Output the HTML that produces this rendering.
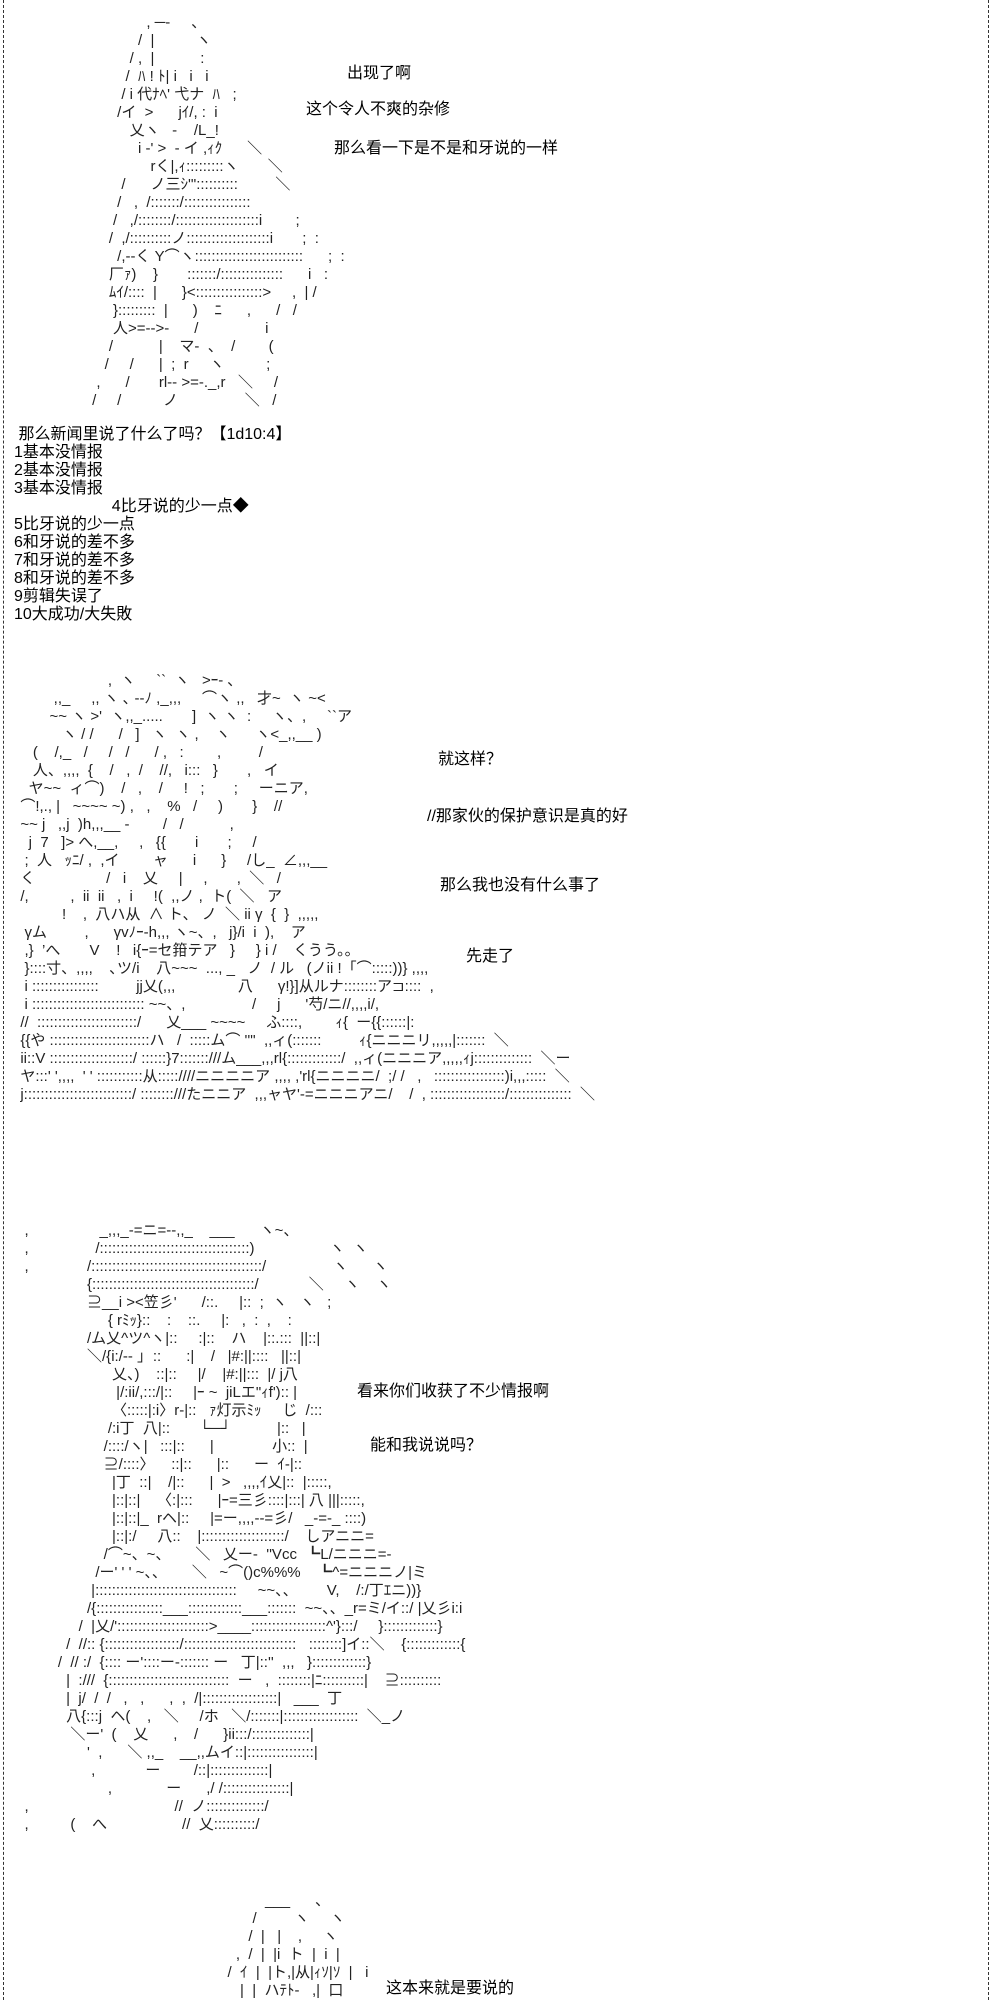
<!DOCTYPE html>
<html><head><meta charset="utf-8">
<style>
html,body{margin:0;padding:0;background:#fff;}
body{width:992px;height:2000px;position:relative;overflow:hidden;font-family:"Liberation Sans","Noto Sans CJK SC",sans-serif;color:#000;}
.bl{position:absolute;top:0;bottom:0;width:0;border-left:1px dashed #333;}
.t{position:absolute;font-size:16px;line-height:18px;white-space:pre;}
.a{position:absolute;font-size:15px;line-height:18px;white-space:pre;font-family:"Liberation Sans","Noto Sans CJK JP",sans-serif;color:#222;}
</style></head><body>
<div class="bl" style="left:3px"></div>
<div class="bl" style="left:988px"></div>

<div class="a" style="left:88px;top:14px">              , ─‐     、
            /  |          ヽ
          / ,  |           :
         /  ﾊ ! ﾄ| i   i   i
        / i 代ﾅﾍ' 弋ナ  ﾊ   ;
       /イ  >      jｲ/, :  i
          乂ヽ   -    /L_!
            i ‐' >  - イ ,ｨｸ      ＼
               rく|,ｨ:::::::::ヽ       ＼
        /      ノ三ｼ'"::::::::::         ＼
       /   ,  /:::::::/::::::::::::::::
      /   ,/::::::::/::::::::::::::::::::i        ;
     /  ,/::::::::::ノ::::::::::::::::::::i       ;  :
       /,-‐く Y⌒ヽ::::::::::::::::::::::::::      ;  :
     厂ｧ)    }       :::::::/:::::::::::::::      i   :
     ﾑｲ/::::  |      }<::::::::::::::::>     ,  | /
      }:::::::::  |      )    ﾆ      ,      /   /
      人>=-->-      /                i
     /           |    マ‐  、  /        (
    /     /      |  ;  r     ヽ          ;
  ,      /       rl‐‐ >=-._,r   ＼     /
 /     /          ノ                ＼   /</div>

<div class="t" style="left:347px;top:65px">出现了啊</div>
<div class="t" style="left:306px;top:101px">这个令人不爽的杂修</div>
<div class="t" style="left:334px;top:140px">那么看一下是不是和牙说的一样</div>

<div class="t" style="left:14px;top:426px"> 那么新闻里说了什么了吗？【1d10:4】
1基本没情报
2基本没情报
3基本没情报
                      4比牙说的少一点◆
5比牙说的少一点
6和牙说的差不多
7和牙说的差不多
8和牙说的差不多
9剪辑失误了
10大成功/大失敗</div>

<div class="a" style="left:12px;top:672px">                       ,  ヽ     ``  ヽ   >ｰ‐ ､
          ,,_     ,, ヽ ､ -‐ﾉ ,_,,,     ⌒ヽ ,,   才~  ヽ ~<
         ~~ ヽ >'  ヽ,,_.....       ]  ヽ ヽ  :     ヽ、,     ``ア
            ヽ / /      /   ]   ヽ  ヽ ,    ヽ      ヽ<_,,__ )
     (    /,_   /     /   /      / ,   :        ,         /
     人、,,,,  {    /   ,  /    //,   i:::   }       ,   イ
    ヤ~~  ィ⌒)    /   ,    /     !   ;       ;     ーニア,
  ⌒!,., |   ~~~~ ~) ,   ,    %   /     )       }    //
  ~~ j   ,,j  )h,,,__ -        /   /           ,
    j  7   ]> へ,__,     ,   {{       i       ;     /
   ;  人   ｯﾆ/ ,  ,イ        ャ      i      }     /し_  ∠,,,__
  く                 /   i    乂     |     ,       ,  ＼   /
  /,          ,  ii  ii   ,  i     !(  ,,ノ ,  ト(  ＼   ア
            !    ,  八ハ从  ∧ ト、 ノ  ＼ ii γ  {  }  ,,,,,
   γム         ,      γvﾉｰ‐h,,, ヽ~、,   j}/i  i  ),    ア
   ,}  ’へ       V    !   i{ｰ=セ箝テア   }     } i /    くうう。。
   }::::寸、,,,,    ､ツ/i    八~~~  ..., _   ノ  / ル   (ノii !「⌒:::::))} ,,,,
   i ::::::::::::::::         jj乂(,,,               八      γ!}]从ルナ::::::::ア⊐::::  ,
   i ::::::::::::::::::::::::::: ~~、,                /     j      '芍/ニ//,,,,i/,
  //  ::::::::::::::::::::::::/      乂___ ~~~~     ふ::::,        ｨ{  ー{{::::::|:
  {{や ::::::::::::::::::::::::ハ   /  :::::ム⌒ ''"  ,,ィ(:::::::         ｨ{ニニニリ,,,,,|:::::::  ＼
  ii::V ::::::::::::::::::::/ ::::::}7:::::::///ム___,,,rl{:::::::::::::/  ,,ィ(ニニニア,,,,,ｨj::::::::::::::  ＼ー
  ヤ:::' ',,,,  ' ' :::::::::::从:::::////ニニニニア ,,,, ,'rl{ニニニニ/  ;/ /   ,   :::::::::::::::::)i,,,:::::  ＼
  j::::::::::::::::::::::::::/ ::::::::///たニニア  ,,,ャヤ'‐=ニニニアニ/    /  , ::::::::::::::::::/:::::::::::::::  ＼</div>

<div class="t" style="left:438px;top:751px">就这样？</div>
<div class="t" style="left:427px;top:808px">//那家伙的保护意识是真的好</div>
<div class="t" style="left:440px;top:877px">那么我也没有什么事了</div>
<div class="t" style="left:466px;top:948px">先走了</div>

<div class="a" style="left:12px;top:1222px">   ,                 _,,,_-=ニ=-‐,,_    ___      ヽ~、
   ,                /::::::::::::::::::::::::::::::::::::)                  ヽ  ヽ
   ,              /:::::::::::::::::::::::::::::::::::::::::/                ヽ      ヽ
                  {:::::::::::::::::::::::::::::::::::::::/            ＼     ヽ    ヽ
                  ⊇__i ><笠彡'      /::.     |::  ;  ヽ   ヽ   ;
                       { rﾐｯ}::    :    ::.     |:   ,  :  ,    :
                  /ム乂^ツ^ヽ|::     :|::    ハ    |::.:::  ||::|
                  ＼/{i:/‐‐ ｣  ::      :|    /   |#:||::::   ||::|
                        乂、)    ::|::     |/    |#:||:::  |/ j八
                         |/:ii/,:::/|::     |ｰ ~  jiLエ"ｨf'):: |
                        〈:::::|:i〉r‐|::   ｧ灯示ﾐｯ     じ  /:::
                       /:i丁  八|::       └─┘           |::   |
                      /::::/ヽ|   :::|::      |              小::  |
                      ⊇/::::〉    ::|::      |::      ー  ｲ‐|::
                        |丁  ::|    /|::      |  >   ,,,,ｲ乂|::  |:::::,
                        |::|::|    〈:|:::      |ｰ=三彡::::|:::| 八 |||:::::,
                        |::|::|_  rヘ|::     |=ー,,,,--=彡/   _-=-_ ::::)
                        |::|:/     八::    |::::::::::::::::::::/    しアニニ=
                      /⌒~、~、      ＼   乂ー‐  ''Vcc  ┗L/ニニニ=-
                    /ー' ' ' ~、、      ＼   ~⌒()c%%%    ┗^=ニニニノ|ミ
                   |::::::::::::::::::::::::::::::::::     ~~、、       V,    /:/丁ｴニ))}
                  /{::::::::::::::::___:::::::::::::___:::::::  ~~、、_r=ミ/イ::/ |乂彡i:i
                /  |乂/'::::::::::::::::::::::>____::::::::::::::::::^'}:::/     }:::::::::::::}
             /  //:: {::::::::::::::::::/:::::::::::::::::::::::::::   ::::::::]イ::＼    {:::::::::::::{
           /  // :/  {:::: ー'::::ー‐::::::: ー   丁|::''  ,,,   }:::::::::::::}
             |  :///  {:::::::::::::::::::::::::::::  ー   ,  ::::::::|ﾆ::::::::::|    ⊇::::::::::
             |  j/  /  /   ,   ,      ,  ,  /|::::::::::::::::::|   ___  丁
             八{:::j  ヘ(    ,   ＼     /ホ   ＼/:::::::|::::::::::::::::::  ＼_ノ
              ＼ー'  (    乂      ,    /      }ii:::/::::::::::::::|
                  '  ,      ＼ ,,_    __,,ムイ::|::::::::::::::::|
                   ,            ー        /::|::::::::::::::|
                       ,             ー      ,/ /::::::::::::::::|
   ,                                   //  ノ::::::::::::::/
   ,          (    へ                  //  乂::::::::::/</div>

<div class="t" style="left:357px;top:1383px">看来你们收获了不少情报啊</div>
<div class="t" style="left:370px;top:1437px">能和我说说吗？</div>

<div class="a" style="left:190px;top:1892px">                  ___      、
               /         ヽ     ヽ
              /  |   |    ,     ヽ
           ,  /  |  |i  ト  |  i  |
         /  ｲ  |  |ト,|从|ｨｿ|ｿ  |   i
            |  |  ハﾃﾄ‐   ,|  口</div>
<div class="t" style="left:386px;top:1980px">这本来就是要说的</div>
</body></html>
